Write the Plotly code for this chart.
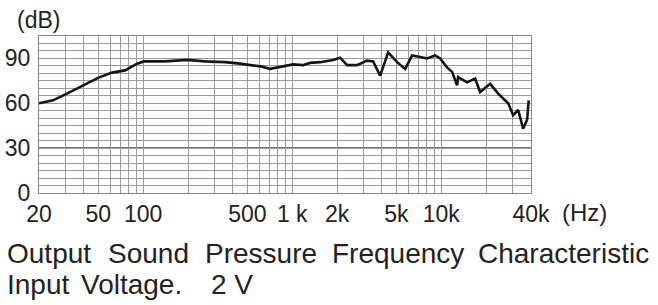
import math
import plotly.graph_objects as go

# ---- data ----
freq_hz = [20, 24.8, 30.8, 39.5, 49.8, 61.8, 75.5, 91, 101, 140, 197, 260, 354, 447, 521, 628,
           710, 828, 1014, 1183, 1318, 1538, 1880, 2095, 2335, 2724, 3178, 3490, 3890, 4400,
           5055, 5720, 6375, 7210, 8035, 9100, 9820, 10940, 11830, 12770, 12970, 14900, 16870,
           18230, 19690, 21280, 24100, 26010, 28120, 30360, 32820, 35410, 37680, 38600]
spl_db = [60, 62, 66.5, 72, 77, 80.5, 82, 86.5, 88, 88, 89, 88, 87.5, 86.5, 85.5, 84.5,
          83, 84.5, 86, 85.5, 87, 87.5, 89, 90.5, 85.5, 85.5, 88.5, 88, 78.5, 94,
          87.5, 83, 92, 91, 90, 92, 90, 84, 81, 72, 77.5, 74, 76.5,
          67.5, 70, 73, 66.5, 63, 60, 52, 55.5, 43, 49, 62]

x_label_vals = [20, 50, 100, 500, 1000, 2000, 5000, 10000, 40000]
x_label_text = ["20", "50", "100", "500", "1 k", "2k", "5k", "10k", "40k"]
x_dark_vals = [50, 100, 500, 1000, 5000, 10000]
y_label_vals = [0, 30, 60, 90]
y_label_text = ["0", "30", "60", "90"]
y_dark_vals = [30]

caption_line1 = ["Output", "Sound", "Pressure", "Frequency", "Characteristic"]
caption_line2 = ["Input", "Voltage.", "2 V"]

# ---- layout geometry (pixels) ----
W, H = 658, 305
L, R, T, B = 39, 531, 36, 193
pw, ph = R - L, B - T

def px_x(p):
    return (p - L) / pw

def px_y(p):
    return (B - p) / ph

# grid positions for log axis
x_grid = []
for dec in [10, 100, 1000, 10000]:
    for m in range(1, 10):
        v = m * dec
        if 20 <= v <= 40000:
            x_grid.append(v)
x_text = [x_label_text[x_label_vals.index(v)] if v in x_label_vals else "" for v in x_grid]

y_grid = list(range(0, 106, 5))
y_text = [y_label_text[y_label_vals.index(v)] if v in y_label_vals else "" for v in y_grid]

FONT = "Liberation Sans, Arial, sans-serif"
TXT = "#222222"

fig = go.Figure()
fig.add_trace(go.Scatter(x=freq_hz, y=spl_db, mode="lines",
                         line=dict(color="#151515", width=2.6), hoverinfo="skip"))

fig.update_layout(
    width=W, height=H,
    margin=dict(l=L, r=W - R, t=T, b=H - B, pad=0, autoexpand=False),
    paper_bgcolor="white", plot_bgcolor="white",
    showlegend=False,
    font=dict(family=FONT, color=TXT),
)
fig.update_xaxes(type="log", range=[math.log10(20), math.log10(40000)],
                 tickmode="array", tickvals=x_grid, ticktext=x_text,
                 showgrid=True, gridcolor="#9a9a9a", gridwidth=1,
                 ticks="", tickfont=dict(size=23, family=FONT, color=TXT),
                 automargin=False,
                 showline=True, linecolor="#8a8a8a", linewidth=1, mirror=True,
                 zeroline=False)
fig.update_yaxes(range=[0, 105], tickmode="array", tickvals=y_grid, ticktext=y_text,
                 showgrid=True, gridcolor="#9a9a9a", gridwidth=1,
                 ticks="", tickfont=dict(size=23, family=FONT, color=TXT),
                 ticklabelstandoff=3, automargin=False,
                 showline=True, linecolor="#8a8a8a", linewidth=1, mirror=True,
                 zeroline=False)

shapes = []
for v in x_dark_vals:
    shapes.append(dict(type="line", xref="x", yref="paper", x0=math.log10(v), x1=math.log10(v),
                       y0=0, y1=1, line=dict(color="#4a4a4a", width=1.6), layer="below"))
for v in y_dark_vals:
    shapes.append(dict(type="line", xref="paper", yref="y", x0=0, x1=1, y0=v, y1=v,
                       line=dict(color="#4a4a4a", width=1.6), layer="below"))
fig.update_layout(shapes=shapes)

ann = []
ann.append(dict(text="(dB)", xref="paper", yref="paper", x=px_x(38), y=px_y(20),
                xanchor="center", yanchor="middle", showarrow=False,
                font=dict(size=23, family=FONT, color=TXT)))
ann.append(dict(text="(Hz)", xref="paper", yref="paper", x=px_x(560), y=px_y(212),
                xanchor="left", yanchor="middle", showarrow=False,
                font=dict(size=24, family=FONT, color=TXT)))
line1_x = [5, 106, 203, 330, 476]
for w, xp in zip(caption_line1, line1_x):
    ann.append(dict(text=w, xref="paper", yref="paper", x=px_x(xp), y=px_y(253),
                    xanchor="left", yanchor="middle", showarrow=False,
                    font=dict(size=28, family=FONT, color=TXT)))
line2_x = [5, 79, 209]
for w, xp in zip(caption_line2, line2_x):
    ann.append(dict(text=w, xref="paper", yref="paper", x=px_x(xp), y=px_y(284),
                    xanchor="left", yanchor="middle", showarrow=False,
                    font=dict(size=28, family=FONT, color=TXT)))
fig.update_layout(annotations=ann)

fig.write_html("out.html")
